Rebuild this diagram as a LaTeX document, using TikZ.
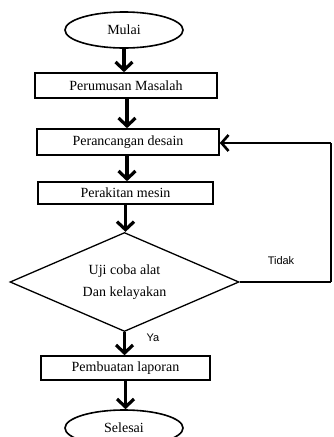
\documentclass[tikz,border=0pt]{standalone}
\usepackage{fontspec}
\setmainfont{Liberation Serif}
\newfontfamily\labelsans{Liberation Sans}
\usetikzlibrary{shapes.geometric,arrows.meta}
\begin{document}
\begin{tikzpicture}[x=1pt,y=-1pt,
  txt/.style={font=\fontsize{14}{22}\selectfont},
  box/.style={txt, draw, line width=1.6pt, rectangle, inner sep=0pt},
  term/.style={txt, draw, line width=1.6pt, ellipse, inner sep=0pt, minimum width=118pt, minimum height=36pt},
  decision/.style={txt, draw, line width=1.3pt, diamond, aspect=2.31, inner sep=0pt, minimum width=229pt, minimum height=99pt, align=center},
  flow/.style={line width=3.2pt, -{Straight Barb[length=8pt,width=17pt]}},
  back/.style={line width=2.6pt, line join=miter},
  lbl/.style={font=\labelsans\fontsize{11}{13}\selectfont, inner sep=0pt}
]
\useasboundingbox (0,0) rectangle (333,437);
\clip (0,0) rectangle (333,437);
\fill[white] (0,0) rectangle (333,437);

\node[term] (mulai) at (124,30) {Mulai};
\node[box, minimum width=182pt, minimum height=25pt] (rumus) at (126,85.5) {Perumusan Masalah};
\node[box, minimum width=182pt, minimum height=26pt] (desain) at (128,142) {Perancangan desain};
\node[box, minimum width=175pt, minimum height=22pt] (rakit) at (125.5,193) {Perakitan mesin};
\node[decision] (uji) at (124.5,282) {Uji coba alat\\Dan kelayakan};
\node[box, minimum width=169pt, minimum height=24pt] (lapor) at (125.5,368) {Pembuatan laporan};
\node[term] (selesai) at (124,428) {Selesai};

\draw[flow] (mulai.south) -- (mulai.south |- rumus.north);
\draw[flow] (rumus.south -| desain.south) ++(-1,0) coordinate (a1) -- (a1 |- desain.north);
\draw[flow] (desain.south) ++(-1,0) coordinate (a2) -- (a2 |- rakit.north);
\draw[flow] (rakit.south) -- (rakit.south |- uji.north);
\draw[flow] (uji.south) -- (uji.south |- lapor.north);
\draw[flow] (lapor.south) -- (lapor.south |- selesai.north);

\coordinate (r1) at (331,282);
\coordinate (r2) at (331,143);
\draw[back] (uji.east) -- (r1);
\draw[line width=1.7pt] (r1) -- (r2);
\draw[back, -{Straight Barb[length=7pt,width=16pt]}] (r2) -- (desain.east |- r2);

\node[lbl] (tidak) at (281,261) {Tidak};
\node[lbl] (ya) at (153,338) {Ya};
\end{tikzpicture}
\end{document}
